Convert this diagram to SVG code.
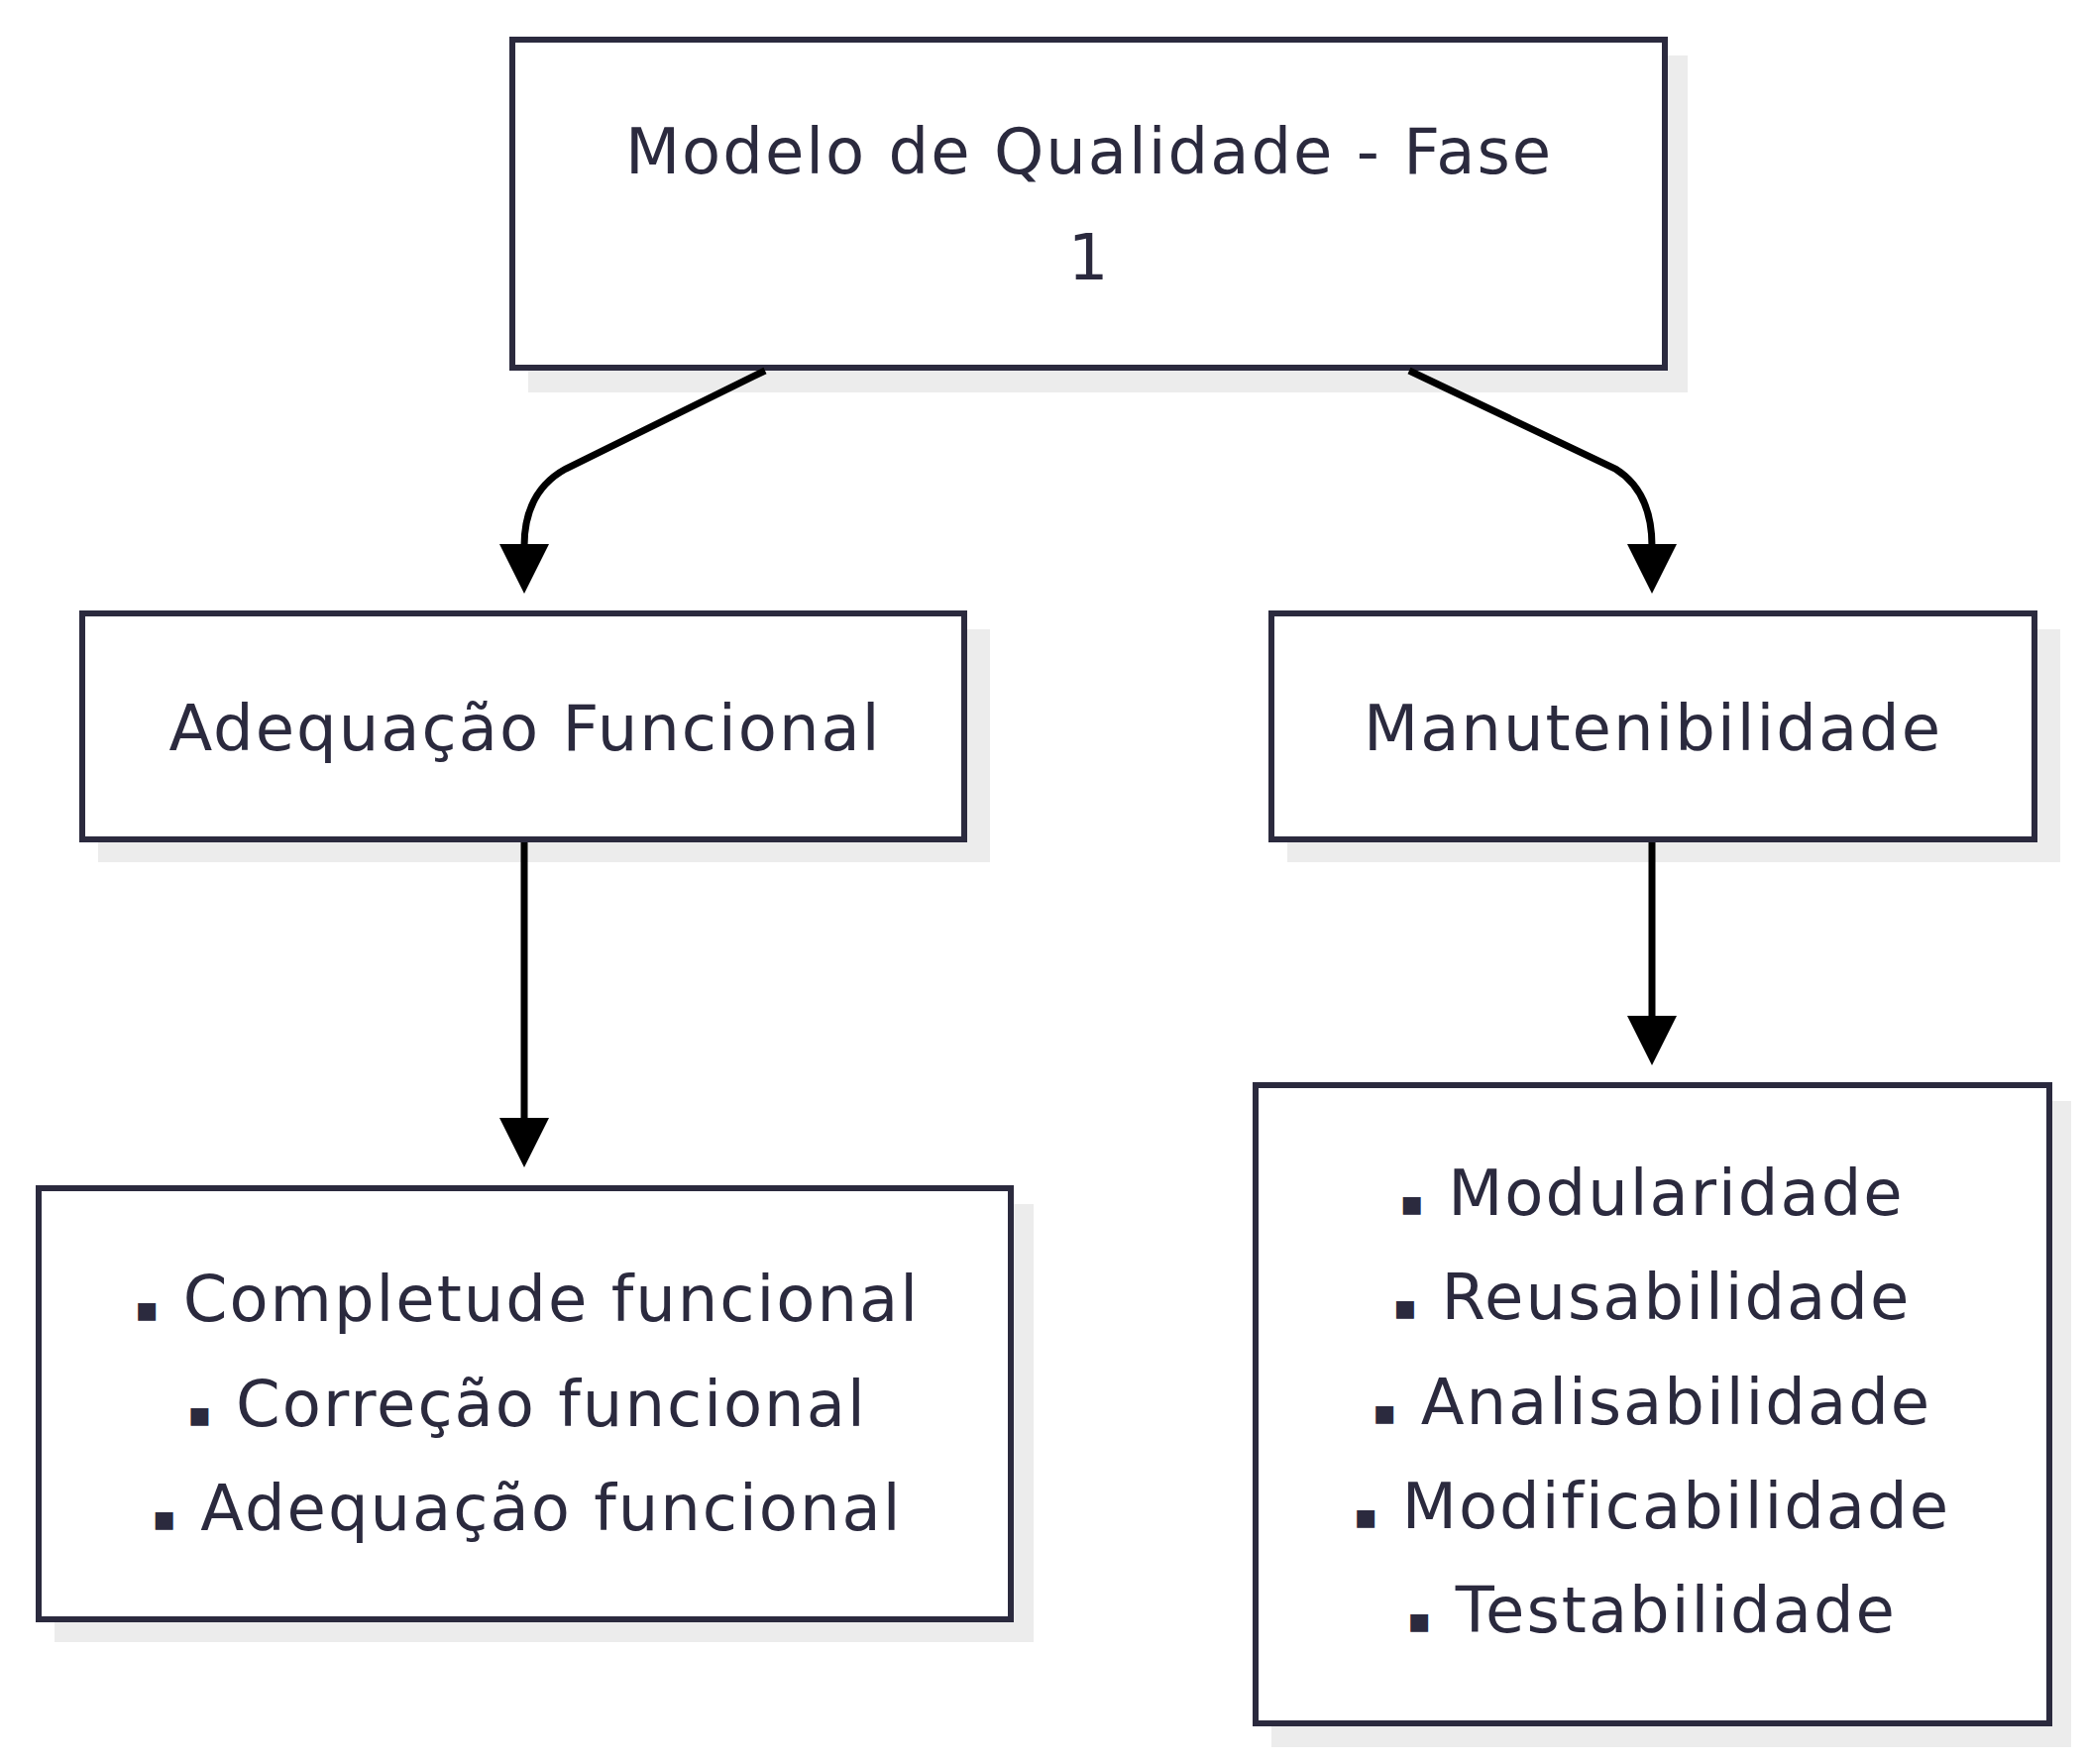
<svg xmlns="http://www.w3.org/2000/svg" width="2107" height="1780" viewBox="0 0 2107 1780">
<style>
.box{fill:#fff;stroke:#2b2a3e;stroke-width:6}
.sh{fill:#ececec}
text{font-family:"DejaVu Sans",sans-serif;font-size:64px;letter-spacing:2px;fill:#2b2a3e;text-anchor:middle}
.b{font-size:36px}
.c{fill:none;stroke:#000;stroke-width:7}
</style>
<defs>
<marker id="ah" viewBox="0 0 50 50" refX="10" refY="25" markerWidth="50" markerHeight="50" markerUnits="userSpaceOnUse" orient="auto"><path d="M0,0L50,25L0,50z" fill="#000"/></marker></defs>
<g id="n1"><rect class="sh" x="533" y="56" width="1170" height="340"/><rect class="box" x="517" y="40" width="1163" height="331"/>
<text x="1099" y="175">Modelo de Qualidade - Fase</text><text x="1099" y="282">1</text></g>
<g id="n2"><rect class="sh" x="99" y="635" width="900" height="235"/><rect class="box" x="83" y="619" width="890" height="228"/>
<text x="530" y="757">Adequação Funcional</text></g>
<g id="n3"><rect class="sh" x="1299" y="635" width="780" height="235"/><rect class="box" x="1283" y="619" width="770" height="228"/>
<text x="1668" y="757">Manutenibilidade</text></g>
<g id="n4"><rect class="sh" x="55" y="1215" width="988" height="442"/><rect class="box" x="39" y="1199" width="981" height="435"/>
<text x="532" y="1333"><tspan class="b">▪</tspan> Completude funcional</text><text x="532" y="1439"><tspan class="b">▪</tspan> Correção funcional</text><text x="532" y="1544"><tspan class="b">▪</tspan> Adequação funcional</text></g>
<g id="n5"><rect class="sh" x="1283" y="1111" width="807" height="652"/><rect class="box" x="1267" y="1095" width="801" height="644"/>
<text x="1667" y="1226"><tspan class="b">▪</tspan> Modularidade</text><text x="1667" y="1331"><tspan class="b">▪</tspan> Reusabilidade</text><text x="1667" y="1437"><tspan class="b">▪</tspan> Analisabilidade</text><text x="1667" y="1542"><tspan class="b">▪</tspan> Modificabilidade</text><text x="1667" y="1647"><tspan class="b">▪</tspan> Testabilidade</text></g>
<g id="connectors">
<path class="c" d="M772,374L571,473Q529,496 529,551L529,559" marker-end="url(#ah)"/>
<path class="c" d="M1422,374L1630,473Q1667,496 1667,551L1667,559" marker-end="url(#ah)"/>
<path class="c" d="M529,850L529,1138" marker-end="url(#ah)"/>
<path class="c" d="M1667,850L1667,1035" marker-end="url(#ah)"/>
</g>
</svg>
